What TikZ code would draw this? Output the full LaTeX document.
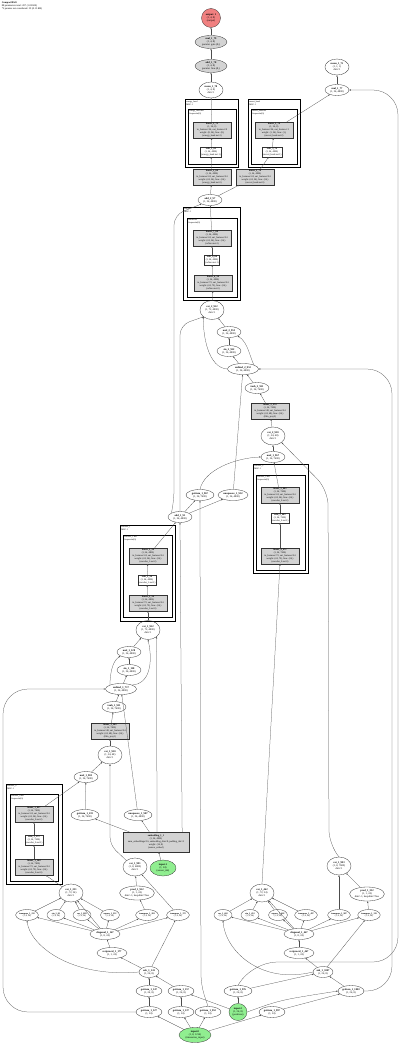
\documentclass[tikz,border=0pt]{standalone}
\usepackage{fontspec}
\setmainfont{Liberation Serif}
\usetikzlibrary{arrows.meta,shapes.geometric}
\definecolor{outred}{HTML}{F08080}
\definecolor{ingreen}{HTML}{90EE90}
\definecolor{modgray}{HTML}{D3D3D3}

\begin{document}
\begin{tikzpicture}[x=1pt,y=-1pt,
  fn/.style={ellipse,draw=black!80,line width=.3pt,inner sep=.2pt,minimum width=24pt,minimum height=11pt,align=center,font=\fontsize{2.6}{3.1}\selectfont},
  row/.style={fn,minimum width=18pt,font=\fontsize{2.2}{2.7}\selectfont},
  layer/.style={rectangle,draw=black!80,fill=modgray,line width=.3pt,inner sep=.8pt,minimum width=38pt,align=center,font=\fontsize{2.4}{3}\selectfont},
  act/.style={rectangle,draw=black!80,fill=white,line width=.3pt,inner sep=.8pt,align=center,font=\fontsize{2.4}{3}\selectfont},
  outer/.style={draw,line width=1pt},
  inner/.style={draw,line width=.5pt},
  tag/.style={anchor=north west,inner sep=.6pt,align=left,font=\fontsize{2.2}{2.6}\selectfont},
  edge/.style={draw=black!70,line width=.25pt,-{Triangle[length=1.6pt,width=1.2pt]}}
]
\useasboundingbox (0,0) rectangle (400,1046);

\node[tag,font=\fontsize{2.5}{2.9}\selectfont] (title) at (1,1) {\textbf{CompactBAO}\\88 parameters total: 207 (1.02 KB)\\*2 params not considered: 39 (0.15 KB)};

% output side
\node[fn,circle,fill=outred,minimum size=19pt] (out) at (211,18) {\textbf{output: 1}\\(1, 4, 8)\\(output)};
\node[fn,fill=modgray,minimum width=32pt,minimum height=13pt] (gate) at (211,42) {\textbf{mul\_1\_79}\\(1, 4, 8)\\params: gate (8,)};
\node[fn,fill=modgray,minimum width=32pt,minimum height=13pt] (bias) at (211,66) {\textbf{add\_1\_78}\\(1, 4, 8)\\params: bias (8,)};
\node[fn,minimum height=16pt] (meanE) at (211,90) {\textbf{mean\_1\_78}\\(1, 4, 8)\\dim=1};
\node[fn,minimum height=16pt] (meanU) at (337,67) {\textbf{mean\_1\_75}\\(1, 1, 1)\\dim=1};
\node[fn] (mulU) at (337,90) {\textbf{mul\_1\_77}\\(1, 24, 4800)};

% heads
\draw[outer] (185,100) rectangle (238,167);
\node[tag] at (185.5,100.5) {energy\_head\\MLP: 1};
\draw[inner] (188,109) rectangle (236,164);
\node[tag] at (188.5,109.5) {energy\_head.net\\Sequential(0)};
\node[layer] (headE2) at (212,130) {\textbf{linear\_3\_79}\\(1, 24, 8)\\in\_features=24, out\_features=8\\weight: (8, 24), bias: (8,)\\(energy\_head.net.2)};
\node[act] (headE1) at (211,152) {\textbf{relu\_3\_69}\\(1, 24, 4800)\\(energy\_head.net.1)};

\draw[outer] (248,100) rectangle (300,167);
\node[tag] at (248.5,100.5) {uncert\_head\\MLP: 1};
\draw[inner] (251,109) rectangle (297,164);
\node[tag] at (251.5,109.5) {uncert\_head.net\\Sequential(0)};
\node[layer] (headU2) at (274,130) {\textbf{linear\_3\_78}\\(1, 24, 8)\\in\_features=24, out\_features=1\\weight: (1, 24), bias: (1,)\\(uncert\_head.net.2)};
\node[act] (headU1) at (272,152) {\textbf{relu\_3\_76}\\(1, 24, 4800)\\(uncert\_head.net.1)};

\node[layer] (headE0) at (212,177) {\textbf{linear\_2\_68}\\(1, 24, 4800)\\in\_features=24, out\_features=24\\weight: (24, 24), bias: (24,)\\(energy\_head.net.0)};
\node[layer] (headU0) at (255,177) {\textbf{linear\_2\_76}\\(1, 24, 4800)\\in\_features=24, out\_features=24\\weight: (24, 24), bias: (24,)\\(uncert\_head.net.0)};
\node[fn] (res2) at (210,200) {\textbf{add\_2\_97}\\(1, 24, 4800)};

% refiner
\draw[outer] (183,207) rectangle (240,300);
\node[tag] at (183.5,207.5) {refiner\\MLP: 1};
\draw[inner] (187,218) rectangle (237,297);
\node[tag] at (187.5,218.5) {refiner.net\\Sequential(0)};
\node[layer] (ref2) at (212,238) {\textbf{linear\_7\_68}\\(1, 24, 4800)\\in\_features=24, out\_features=24\\weight: (24, 24), bias: (24,)\\(refiner.net.2)};
\node[act] (ref1) at (212,260) {\textbf{relu\_6\_68}\\(1, 24, 4800)\\(refiner.net.1)};
\node[layer] (ref0) at (213,283) {\textbf{linear\_6\_58}\\(1, 24, 4800)\\in\_features=72, out\_features=24\\weight: (24, 72), bias: (24,)\\(refiner.net.0)};

% block 2
\node[fn,minimum height=19pt] (cat2) at (212,310) {\textbf{cat\_2\_952}\\(1, 72, 4800)\\dim=1};
\node[fn] (mul2) at (229,332) {\textbf{mul\_2\_953}\\(1, 24, 4800)};
\node[fn] (sin2) at (229,351) {\textbf{sin\_2\_952}\\(1, 24, 4800)};
\node[fn,minimum width=31pt] (unb2) at (243,369) {\textbf{unbind\_2\_952}\\(1, 24, 4800)};
\node[fn] (tanh2) at (257,388) {\textbf{tanh\_2\_951}\\(1, 24, 7600)};
\node[layer] (film2) at (270,411) {\textbf{linear\_2\_974}\\(1, 24, 7600)\\in\_features=48, out\_features=24\\weight: (24, 48), bias: (24,)\\(film\_proj.2)};
\node[fn,minimum height=18pt] (catB) at (273,436) {\textbf{cat\_2\_910}\\(1, 24, 48)\\dim=1};
\node[fn] (mulB) at (273,457) {\textbf{mul\_1\_967}\\(1, 24, 7600)};

\draw[outer] (253,464) rectangle (308,573);
\node[tag] at (253.5,464.5) {encoder\_2\\MLP: 1};
\draw[inner] (256,475) rectangle (305,570);
\node[tag] at (256.5,475.5) {encoder\_2.net\\Sequential(0)};
\node[layer] (enc2b) at (280,495) {\textbf{linear\_5\_863}\\(1, 24, 7600)\\in\_features=24, out\_features=24\\weight: (24, 24), bias: (24,)\\(encoder\_2.net.2)};
\node[act] (enc2a) at (280,518) {\textbf{relu\_5\_463}\\(1, 24, 7600)\\(encoder\_2.net.1)};
\node[layer] (enc20) at (280,556) {\textbf{linear\_4\_472}\\(1, 24, 7600)\\in\_features=72, out\_features=24\\weight: (24, 72), bias: (24,)\\(encoder\_2.net.0)};

\node[fn,minimum width=28pt] (get2) at (200,495) {\textbf{getitem\_1\_967}\\(1, 24, 7600)};
\node[fn,minimum width=30pt] (unsq2) at (233,495) {\textbf{unsqueeze\_1\_932}\\(1, 24, 4800)};
\node[fn] (add1) at (180,517) {\textbf{add\_1\_91}\\(1, 24, 4800)};

% block 1
\draw[outer] (120,525) rectangle (175,621);
\node[tag] at (120.5,525.5) {encoder\_1\\MLP: 1};
\draw[inner] (123,535) rectangle (172,617);
\node[tag] at (123.5,535.5) {encoder\_1.net\\Sequential(0)};
\node[layer] (enc1b) at (148,556) {\textbf{linear\_3\_56}\\(1, 24, 4800)\\in\_features=24, out\_features=24\\weight: (24, 24), bias: (24,)\\(encoder\_1.net.2)};
\node[act] (enc1a) at (147,580) {\textbf{relu\_3\_56}\\(1, 24, 4800)\\(encoder\_1.net.1)};
\node[layer] (enc10) at (148,603) {\textbf{linear\_2\_56}\\(1, 24, 4800)\\in\_features=72, out\_features=24\\weight: (24, 72), bias: (24,)\\(encoder\_1.net.0)};

\node[fn,minimum height=19pt] (cat1) at (148,630) {\textbf{cat\_1\_952}\\(1, 72, 4800)\\dim=1};
\node[fn] (mul1) at (129,652) {\textbf{mul\_1\_128}\\(1, 24, 4800)};
\node[fn] (sin1) at (129,670) {\textbf{sin\_1\_128}\\(1, 24, 4800)};
\node[fn,minimum width=31pt] (unb1) at (121,689) {\textbf{unbind\_1\_717}\\(1, 24, 4800)};
\node[fn] (tanh1) at (114,707) {\textbf{tanh\_1\_911}\\(1, 24, 7600)};
\node[layer] (film1) at (110,731) {\textbf{linear\_1\_203}\\(1, 24, 7600)\\in\_features=48, out\_features=24\\weight: (24, 48), bias: (24,)\\(film\_proj.1)};
\node[fn,minimum height=18pt] (catA) at (110,755) {\textbf{cat\_1\_910}\\(1, 24, 48)\\dim=1};
\node[fn] (mulA) at (86,777) {\textbf{mul\_1\_903}\\(1, 24, 7600)};

\draw[outer] (6,784) rectangle (62,884);
\node[tag] at (6.5,784.5) {encoder\_0\\MLP: 1};
\draw[inner] (10,794) rectangle (58,881);
\node[tag] at (10.5,794.5) {encoder\_0.net\\Sequential(0)};
\node[layer] (enc0b) at (34,814) {\textbf{linear\_1\_857}\\(1, 24, 7600)\\in\_features=24, out\_features=24\\weight: (24, 24), bias: (24,)\\(encoder\_0.net.2)};
\node[act] (enc0a) at (34,840) {\textbf{relu\_1\_373}\\(1, 24, 7600)\\(encoder\_0.net.1)};
\node[layer] (enc00) at (34,867) {\textbf{linear\_1\_344}\\(1, 24, 7600)\\in\_features=72, out\_features=24\\weight: (24, 72), bias: (24,)\\(encoder\_0.net.0)};

\node[fn,minimum width=28pt] (get1) at (85,815) {\textbf{getitem\_1\_233}\\(1, 24, 7600)};
\node[fn,minimum width=28pt] (unsq1) at (138,815) {\textbf{unsqueeze\_1\_987}\\(1, 24, 4800)};
\node[layer,minimum width=66pt,minimum height=20pt] (embed) at (156,842) {\textbf{embedding\_1\_1}\\(1, 24, 4800)\\num\_embeddings=16, embedding\_dim=8, padding\_idx=0\\weight: (16, 8)\\(sensor\_embed)};
\node[fn,fill=ingreen,minimum width=26pt,minimum height=16pt] (inSensor) at (163,868) {\textbf{input-1}\\(1, 24)\\(sensor\_ids)};

% left feature group
\node[fn,minimum height=18pt] (catL) at (135,867) {\textbf{cat\_1\_991}\\(1, 8, 4800)\\dim=1};
\node[fn,minimum width=30pt,minimum height=14pt] (predL) at (137,893) {\textbf{prod\_1\_952}\\(1, 1, 24)\\dim=-1, keepdim=True};
\node[fn,minimum height=18pt] (catLK) at (71,893) {\textbf{cat\_1\_231}\\(1, 72, 24)\\dim=1};
\node[row] (tL1) at (27,915) {\textbf{transpose\_1\_212}\\(1, 8, 24)};
\node[row] (sinL) at (56,915) {\textbf{sin\_1\_62}\\(1, 8, 24)};
\node[row] (cosL) at (82,915) {\textbf{cos\_1\_881}\\(1, 8, 24)};
\node[row] (sqL) at (110,915) {\textbf{square\_1\_212}\\(1, 8, 24)};
\node[row] (tL2) at (147,915) {\textbf{transpose\_1\_263}\\(1, 8, 24)};
\node[row] (tL3) at (178,915) {\textbf{transpose\_1\_172}\\(1, 8, 24)};
\node[fn,minimum width=30pt] (diagL) at (105,934) {\textbf{diagonal\_1\_167}\\(1, 8, 24)};
\node[fn,minimum width=30pt] (recL) at (112,953) {\textbf{reciprocal\_1\_177}\\(1, 1, 24)};
\node[fn,minimum width=20pt] (subL) at (149,972) {\textbf{sub\_1\_141}\\(1, 24, 8)};
\node[fn,minimum width=26pt] (gL1) at (149,991) {\textbf{getitem\_1\_147}\\(1, 24, 8)};
\node[fn,minimum width=26pt] (gL2) at (181,991) {\textbf{getitem\_1\_157}\\(1, 24, 8)};
\node[fn,minimum width=26pt] (gL3) at (149,1012) {\textbf{getitem\_1\_127}\\(1, 24)};
\node[fn,minimum width=26pt] (gL4) at (181,1012) {\textbf{getitem\_1\_137}\\(1, 24)};
\node[fn,minimum width=26pt] (gL5) at (208,1012) {\textbf{getitem\_1\_952}\\(1, 24)};
\node[fn,fill=ingreen,minimum width=32pt,minimum height=15pt] (inSeq) at (195,1035) {\textbf{input-0}\\(1, 8, 1214)\\(timeseries\_input)};
\node[fn,fill=ingreen,minimum width=18pt,minimum height=17pt] (inPos) at (238,1012) {\textbf{input-2}\\(1, 24, 8)\\(positions)};

% right feature group
\node[fn,minimum height=18pt] (catRK) at (262,893) {\textbf{cat\_1\_462}\\(1, 72, 24)\\dim=1};
\node[fn,minimum height=18pt] (catRC) at (339,866) {\textbf{cat\_1\_993}\\(1, 8, 7600)\\dim=1};
\node[fn,minimum width=30pt,minimum height=14pt] (predR) at (367,894) {\textbf{prod\_1\_332}\\(1, 1, 24)\\dim=-1, keepdim=True};
\node[row] (cosR) at (223,915) {\textbf{cos\_1\_462}\\(1, 8, 24)};
\node[row] (sinR) at (250,915) {\textbf{sin\_1\_452}\\(1, 8, 24)};
\node[row] (sqR) at (278,915) {\textbf{square\_1\_462}\\(1, 8, 24)};
\node[row] (tR1) at (306,915) {\textbf{transpose\_1\_497}\\(1, 8, 24)};
\node[row] (tR2) at (339,915) {\textbf{transpose\_1\_987}\\(1, 8, 24)};
\node[row] (tR3) at (369,915) {\textbf{transpose\_1\_119}\\(1, 8, 24)};
\node[fn,minimum width=30pt] (diagR) at (299,934) {\textbf{diagonal\_1\_467}\\(1, 8, 24)};
\node[fn,minimum width=30pt] (recR) at (299,953) {\textbf{reciprocal\_1\_467}\\(1, 1, 24)};
\node[fn,minimum width=20pt] (subR) at (323,972) {\textbf{sub\_1\_1007}\\(1, 24, 8)};
\node[fn,minimum width=28pt] (gR1) at (238,991) {\textbf{getitem\_1\_976}\\(1, 24, 8)};
\node[fn,minimum width=26pt] (gR2) at (351,991) {\textbf{getitem\_1\_1003}\\(1, 24, 8)};
\node[fn,minimum width=26pt] (gR3) at (272,1012) {\textbf{getitem\_1\_997}\\(1, 24)};

% connectors, top part
\draw[edge] (gate) -- (out);
\draw[edge] (bias) -- (gate);
\draw[edge] (meanE) -- (bias);
\draw[edge] (headE2) -- (meanE);
\draw[edge] (mulU) -- (meanU);
\draw[edge] (headU2) -- (mulU);
\draw[edge] (headE1) -- (headE2);
\draw[edge] (headU1) -- (headU2);
\draw[edge] (headE0) -- (headE1);
\draw[edge] (headU0) -- (headU1);
\draw[edge] (res2) -- (headE0);
\draw[edge] (res2) -- (headU0);
\draw[edge] (ref2) -- (res2);
\draw[edge] (ref1) -- (ref2);
\draw[edge] (ref0) -- (ref1);
\draw[edge] (cat2) -- (ref0);
\draw[edge] (mul2) -- (cat2);
\draw[edge] (sin2) -- (mul2);
\draw[edge] (unb2) -- (sin2);
\draw[edge] (unb2.north east) .. controls (250,358) and (248,342) .. (mul2.south east);
\draw[edge] (unb2.west) .. controls (208,368) and (203,335) .. (cat2.south west);
\draw[edge] (tanh2) -- (unb2);
\draw[edge] (film2) -- (tanh2);
\draw[edge] (catB) -- (film2);
\draw[edge] (mulB) -- (catB);
\draw[edge] (enc2b) -- (mulB);
\draw[edge] (enc2a) -- (enc2b);
\draw[edge] (enc20) -- (enc2a);
\draw[edge] (get2.north) .. controls (204,470) and (235,458) .. (mulB.west);
\draw[edge] (unsq2) -- (unb2);
\draw[edge] (add1) -- (get2);
\draw[edge] (add1) -- (unsq2);
\draw[edge,rounded corners=10pt] (add1.north west) -- (174,500) -- (174,215) -- (res2.south west);
\draw[edge,rounded corners=10pt] (add1.north) -- (180,495) -- (180,325) -- (cat2.south west);
\draw[edge] (enc1b) -- (add1);
\draw[edge] (enc1a) -- (enc1b);
\draw[edge] (enc10) -- (enc1a);
\draw[edge] (cat1) -- (enc10);
\draw[edge] (mul1) -- (cat1);
\draw[edge] (sin1) -- (mul1);
\draw[edge] (unb1) -- (sin1);
\draw[edge] (unb1.north west) .. controls (110,678) and (111,662) .. (mul1.south west);
\draw[edge] (unb1.north east) .. controls (150,684) and (153,662) .. (cat1.south);
\draw[edge] (tanh1) -- (unb1);
\draw[edge] (film1) -- (tanh1);
\draw[edge] (catA) -- (film1);
\draw[edge] (mulA) -- (catA);
\draw[edge] (enc0b) -- (mulA);
\draw[edge] (enc0a) -- (enc0b);
\draw[edge] (enc00) -- (enc0a);
\draw[edge] (get1) -- (mulA);
\draw[edge] (unsq1) -- (unb1);
\draw[edge] (embed) -- (get1);
\draw[edge] (embed) -- (unsq1);
\draw[edge] ([xshift=1pt]embed.north) -- (cat1.south east);
\draw[edge] ([xshift=-7pt]embed.north east) -- (add1.south);
\draw[edge] (inSensor) -- (embed);

% long connectors
\draw[edge,rounded corners=8pt] (catL.north west) -- (110,845) -- (catA.south);
\draw[edge,rounded corners=15pt] (catRC.north) -- (329,845) -- (328,490) -- (catB.south east);
\draw[edge,rounded corners=10pt] (gL5.north) -- (201,985) -- (200,520) -- (get2.south);
\draw[edge,rounded corners=25pt] (gL3.west) -| (3,689) -- (unb1.west);
\draw[edge,rounded corners=25pt] (gR2.east) -| (392,369) -- (unb2.east);
\draw[edge,rounded corners=25pt] (gR1.north) -- (252,962) -- (398,962) -- (398,90) -- (mulU.east);
\draw[edge] (catRK.north) -- (enc20.south);
\draw[edge] (catLK) -- (enc00);

% left feature group
\foreach \f in {tL1,sinL,cosL,sqL} {\draw[edge] (\f) -- (catLK);}
\foreach \f in {tL1,sinL,cosL,sqL,tL2,tL3,catLK} {\draw[edge] (diagL) -- (\f);}
\draw[edge] (tL2) -- (predL);
\draw[edge] (tL3) -- (catL);
\draw[edge] (predL) -- (catL);
\draw[edge] (recL) -- (diagL);
\draw[edge] (subL) -- (recL);
\draw[edge] (subL.west) .. controls (70,978) and (30,945) .. (tL1.south);
\draw[edge] (subL) -- (tL3);
\draw[edge] (gL1) -- (subL);
\draw[edge] (gL2) -- (subL);
\draw[edge] (gL3) -- (gL1);
\draw[edge] (gL4) -- (gL2);
\draw[edge] (inPos) -- (gL2);
\foreach \g in {gL3,gL4,gL5,gR3} {\draw[edge] (inSeq) -- (\g);}

% right feature group
\foreach \f in {cosR,sinR,sqR,tR1} {\draw[edge] (\f) -- (catRK);}
\foreach \f in {cosR,sinR,sqR,tR1,tR2,tR3,catRK} {\draw[edge] (diagR) -- (\f);}
\draw[edge] (tR2) -- (catRC);
\draw[edge] (tR3) -- (predR);
\draw[edge] (predR) -- (catRC);
\draw[edge] (recR) -- (diagR);
\draw[edge] (subR) -- (recR);
\draw[edge] (subR.west) .. controls (260,985) and (225,950) .. (cosR.south);
\draw[edge] (subR) -- (tR3);
\draw[edge] (gR1) -- (subR);
\draw[edge] (gR2) -- (subR);
\draw[edge] (gR3) -- (gR2);
\draw[edge] (inPos) -- (gR1);
\draw[edge] (inPos.east) .. controls (280,1000) .. (gR2.west);
\end{tikzpicture}
\end{document}
